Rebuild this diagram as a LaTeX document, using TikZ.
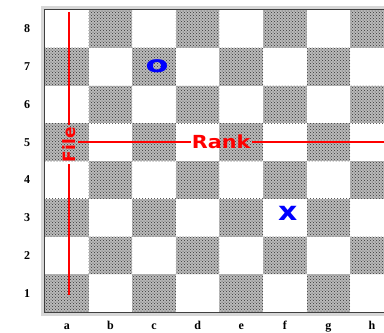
\documentclass[tikz,border=0pt]{standalone}
\usepackage{fontspec}
\setmainfont{Liberation Serif}
\newfontfamily\markfont{DejaVu Sans}
\usetikzlibrary{patterns}
\definecolor{squaregray}{RGB}{186,186,186}
\definecolor{framegray}{RGB}{215,215,215}

\tikzset{
  darksq/.style={fill=squaregray,postaction={pattern=crosshatch dots,pattern color=black!80}},
  redline/.style={draw=red,line width=2.2pt},
  redlabel/.style={text=red,inner sep=1pt,font=\markfont\bfseries},
  piece/.style={text=blue,inner sep=0pt,font=\markfont\bfseries}
}

\begin{document}
\begin{tikzpicture}[x=43.6pt,y=37.75pt,every node/.style={font=\bfseries\fontsize{12}{12}\selectfont}]
\clip (-1.032,-0.530) rectangle (7.775,8.265);
\fill[white] (-1.032,-0.530) rectangle (7.775,8.265);
% board squares
\foreach \i in {0,...,7}
  \foreach \j in {0,...,7}{
    \pgfmathparse{int(mod(\i+\j,2))}
    \ifnum\pgfmathresult=0
      \fill[darksq] (\i,\j) rectangle ++(1,1);
    \fi
  }
% frame
\draw[framegray,line width=3pt] (-0.05,-0.06) rectangle (8.05,8.06);
\draw[black!75,line width=1pt] (0,0) rectangle (8,8);
% ranks and files
\foreach \r in {1,...,8}
  \node (rank\r) at (-0.41,\r-0.5) {\r};
\foreach \f [count=\i from 0] in {a,b,c,d,e,f,g,h}
  \node[anchor=base] (file\f) at (\i+0.5,-0.46) {\f};
% the two red axes
\coordinate (filetop) at (0.555,7.95);
\coordinate (filebot) at (0.555,0.45);
\coordinate (rankend) at (7.9,4.5);
\node[redlabel,rotate=90,inner sep=2pt,font=\markfont\bfseries\fontsize{17}{17}\selectfont] (file) at (0.555,4.43) {File};
\node[redlabel,xscale=1.15,font=\markfont\bfseries\fontsize{18}{18}\selectfont] (rank) at (4.04,4.5) {Rank};
\draw[redline] (filetop) -- (file.east);
\draw[redline] (file.west) -- (filebot);
\draw[redline] (file.south |- rank.west) -- (rank.west);
\draw[redline] (rank.east) -- (rankend);
% pieces
\node[piece,xscale=1.45,font=\markfont\bfseries\fontsize{23}{23}\selectfont] (nought) at (2.57,6.5) {o};
\node[piece,xscale=1.15,font=\markfont\bfseries\fontsize{26}{26}\selectfont] (cross) at (5.57,2.62) {x};
\end{tikzpicture}
\end{document}
